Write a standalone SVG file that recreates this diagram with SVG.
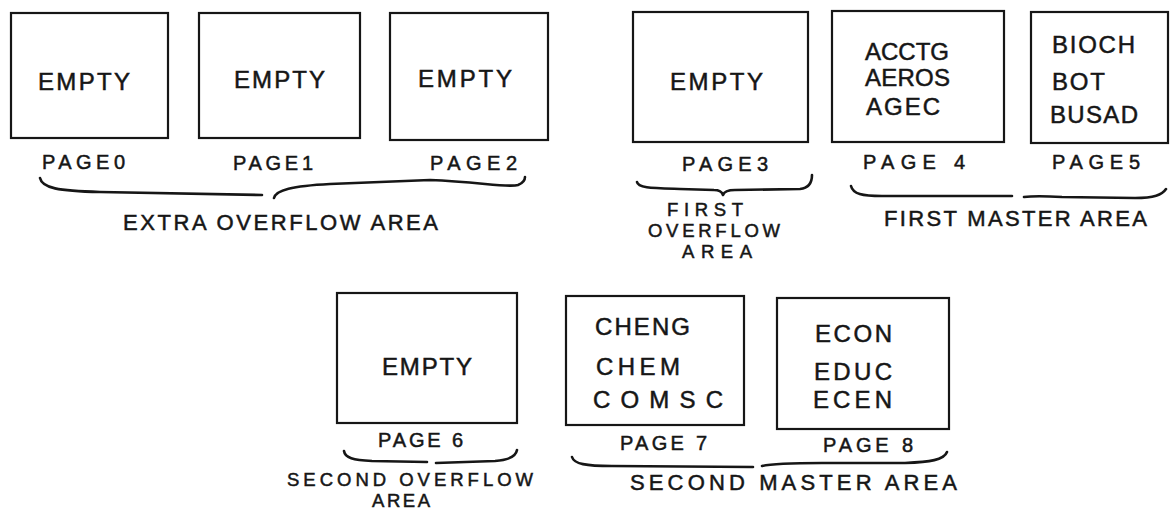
<svg xmlns="http://www.w3.org/2000/svg" width="1172" height="510" viewBox="0 0 1172 510">
<style>
  .box { fill: none; stroke: #161616; stroke-width: 2.2; }
  .brace { fill: none; stroke: #161616; stroke-width: 2.6; stroke-linecap: round; stroke-linejoin: round; }
  text { font-family: "Liberation Sans", Arial, sans-serif; fill: #161616; stroke: #161616; stroke-width: 0.5; }
  .in { font-size: 24px; }
  .pg { font-size: 20px; }
  .area { font-size: 22px; }
  .stack { font-size: 18.5px; }
</style>
<rect width="1172" height="510" fill="#ffffff"/>

<g id="page0">
  <rect class="box" x="11" y="13" width="157" height="125"/>
  <text class="in" x="38" y="90" textLength="92" lengthAdjust="spacing">EMPTY</text>
  <text class="pg" x="42" y="169" textLength="83" lengthAdjust="spacing">PAGE0</text>
</g>
<g id="page1">
  <rect class="box" x="199" y="13" width="161" height="125"/>
  <text class="in" x="234" y="88" textLength="91" lengthAdjust="spacing">EMPTY</text>
  <text class="pg" x="233" y="170" textLength="80" lengthAdjust="spacing">PAGE1</text>
</g>
<g id="page2">
  <rect class="box" x="390" y="13" width="158" height="127"/>
  <text class="in" x="418" y="87" textLength="94" lengthAdjust="spacing">EMPTY</text>
  <text class="pg" x="430" y="170" textLength="87" lengthAdjust="spacing">PAGE2</text>
</g>
<g id="page3">
  <rect class="box" x="633" y="12" width="175" height="130"/>
  <text class="in" x="670" y="90" textLength="93" lengthAdjust="spacing">EMPTY</text>
  <text class="pg" x="682" y="171" textLength="86" lengthAdjust="spacing">PAGE3</text>
</g>
<g id="page4">
  <rect class="box" x="832" y="11" width="172" height="131"/>
  <text class="in" x="865" y="60" textLength="84" lengthAdjust="spacing">ACCTG</text>
  <text class="in" x="865" y="86" textLength="85" lengthAdjust="spacing">AEROS</text>
  <text class="in" x="866" y="115" textLength="74" lengthAdjust="spacing">AGEC</text>
  <text class="pg" x="863" y="169" textLength="102" lengthAdjust="spacing">PAGE 4</text>
</g>
<g id="page5">
  <rect class="box" x="1031" y="12" width="137" height="131"/>
  <text class="in" x="1052" y="53" textLength="83" lengthAdjust="spacing">BIOCH</text>
  <text class="in" x="1052" y="90" textLength="53" lengthAdjust="spacing">BOT</text>
  <text class="in" x="1050" y="123" textLength="88" lengthAdjust="spacing">BUSAD</text>
  <text class="pg" x="1052" y="169" textLength="88" lengthAdjust="spacing">PAGE5</text>
</g>
<g id="page6">
  <rect class="box" x="337" y="293" width="180" height="130"/>
  <text class="in" x="382" y="375" textLength="90" lengthAdjust="spacing">EMPTY</text>
  <text class="pg" x="378" y="447" textLength="85" lengthAdjust="spacing">PAGE 6</text>
</g>
<g id="page7">
  <rect class="box" x="566" y="296" width="178" height="129"/>
  <text class="in" x="595" y="335" textLength="95" lengthAdjust="spacing">CHENG</text>
  <text class="in" x="596" y="375" textLength="84" lengthAdjust="spacing">CHEM</text>
  <text class="in" x="593" y="408" textLength="130" lengthAdjust="spacing">COMSC</text>
  <text class="pg" x="620" y="450" textLength="87" lengthAdjust="spacing">PAGE 7</text>
</g>
<g id="page8">
  <rect class="box" x="777" y="298" width="172" height="131"/>
  <text class="in" x="815" y="342" textLength="77" lengthAdjust="spacing">ECON</text>
  <text class="in" x="814" y="380" textLength="78" lengthAdjust="spacing">EDUC</text>
  <text class="in" x="813" y="408" textLength="79" lengthAdjust="spacing">ECEN</text>
  <text class="pg" x="823" y="452" textLength="90" lengthAdjust="spacing">PAGE 8</text>
</g>

<g id="braces">
  <path class="brace" d="M40,178 C42,188 58,191 100,192 L262,195 M274,198 C276,190 292,186 330,184 L430,180 C480,182 508,188 518,185 C523,183 525,180 525,177"/>
  <path class="brace" d="M637,182 C638,188 652,188 680,189 L714,190 C720,190 722,192 723,195 C724,192 728,190 735,190 L800,189 C809,188 812,182 812,175"/>
  <path class="brace" d="M851,186 C853,194 862,196 882,196 L1012,196 M1024,197 C1032,196 1044,196 1062,197 L1135,198 C1154,198 1162,195 1166,189"/>
  <path class="brace" d="M344,451 C345,458 353,460 372,461 L427,462 M436,463 L495,461 C510,460 516,456 517,450"/>
  <path class="brace" d="M572,457 C574,464 586,466 612,466 L753,467 M762,466 C770,464 790,463 822,463 L905,463 C930,462 944,460 947,452"/>
</g>

<g id="area-extra-overflow">
  <text class="area" x="123" y="230" textLength="315" lengthAdjust="spacing">EXTRA  OVERFLOW AREA</text>
</g>
<g id="area-first-overflow">
  <text class="stack" x="667" y="216" textLength="76" lengthAdjust="spacing">FIRST</text>
  <text class="stack" x="648" y="237" textLength="132" lengthAdjust="spacing">OVERFLOW</text>
  <text class="stack" x="682" y="258" textLength="70" lengthAdjust="spacing">AREA</text>
</g>
<g id="area-first-master">
  <text class="area" x="884" y="226" textLength="263" lengthAdjust="spacing">FIRST MASTER AREA</text>
</g>
<g id="area-second-overflow">
  <text class="stack" x="287" y="486" textLength="246" lengthAdjust="spacing">SECOND OVERFLOW</text>
  <text class="stack" x="372" y="507" textLength="58" lengthAdjust="spacing">AREA</text>
</g>
<g id="area-second-master">
  <text class="area" x="630" y="490" textLength="327" lengthAdjust="spacing">SECOND  MASTER  AREA</text>
</g>
</svg>
